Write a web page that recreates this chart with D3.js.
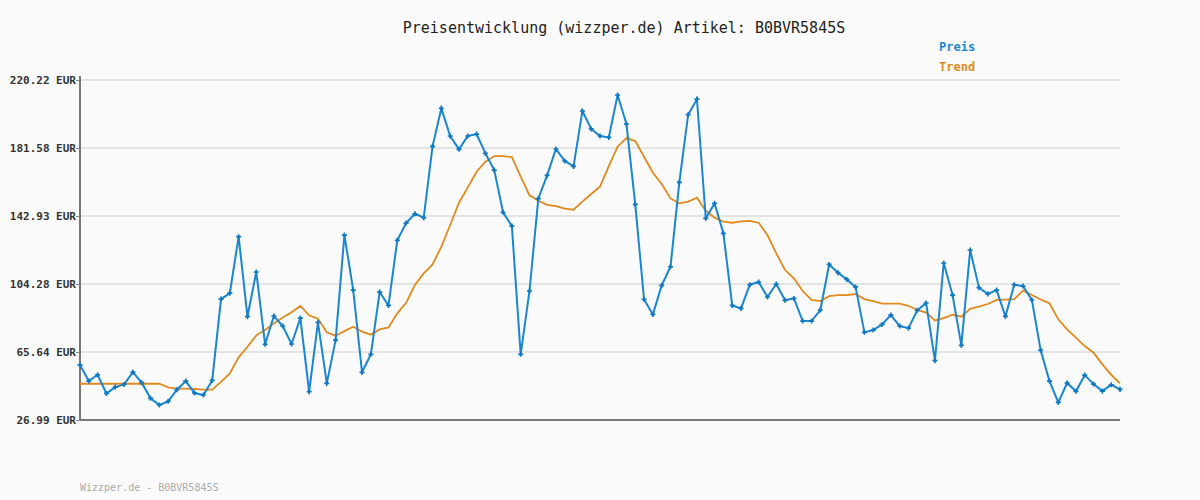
<!DOCTYPE html>
<html><head><meta charset="utf-8">
<script src="https://cdn.jsdelivr.net/npm/d3@7"></script>
<style>body{margin:0;background:#fafafa}svg{display:block}</style></head>
<body><svg id="c" width="1200" height="500"></svg>
<script>
const title = "Preisentwicklung (wizzper.de) Artikel: B0BVR5845S";
const footer = "Wizzper.de - B0BVR5845S";
const tickValues = [26.99, 65.64, 104.28, 142.93, 181.58, 220.22];
const tickLabels = ["26.99 EUR","65.64 EUR","104.28 EUR","142.93 EUR","181.58 EUR","220.22 EUR"];
const preis = [58.2,49.1,52.7,42.1,45.7,47.2,54.2,48.2,39.3,35.5,37.6,44.2,49.1,42.3,41.2,49.5,95.7,99.1,131.2,85.7,111.1,70.0,86.1,80.4,70.2,84.9,43.1,82.5,47.8,72.4,132.1,100.8,54.1,64.3,99.7,92.1,129.1,138.9,144.2,142.0,
182.5,204.1,188.4,180.8,188.4,189.5,178.5,169.0,145.0,137.2,64.3,100.3,152.8,166.0,181.0,174.2,171.1,202.6,192.4,188.4,187.6,211.7,195.2,149.5,95.5,87.0,103.5,114.1,162.0,200.5,209.4,141.6,150.1,133.1,92.1,90.4,103.9,105.4,96.9,104.3,
95.0,96.1,83.2,83.2,89.5,115.4,110.7,106.9,102.6,76.8,78.1,81.3,86.6,80.4,79.2,89.3,93.5,60.7,116.2,98.0,69.4,123.6,102.2,98.6,100.8,85.9,103.9,103.1,95.2,66.6,49.1,37.0,48.0,43.3,52.5,47.4,43.4,47.0,44.4];
const trend = [47.6,47.6,47.6,47.6,47.6,47.6,47.6,47.6,47.6,47.6,45.5,44.8,44.8,44.6,44.2,44.2,48.7,53.5,62.6,68.6,75.1,78.1,81.9,85.3,88.2,91.8,86.5,84.6,76.8,74.9,77.5,80.0,77.2,75.5,78.5,79.6,87.6,93.6,103.7,110.3,
115.4,125.5,137.8,150.5,159.2,168.1,173.8,177.0,177.0,176.4,165.3,154.7,151.6,149.3,148.6,147.1,146.5,151.1,155.4,159.6,171.3,182.3,187.2,185.5,176.6,167.5,161.1,152.9,150.1,151.1,153.3,145.9,142.0,139.7,139.1,139.9,140.1,139.1,132.1,121.7,
112.2,107.5,100.3,95.2,94.6,97.4,98.0,98.0,98.6,95.7,94.6,93.1,93.1,93.1,91.9,89.5,88.0,83.6,84.9,86.8,85.7,90.2,91.4,92.9,95.2,95.4,95.7,100.5,98.0,95.5,93.3,84.2,78.5,73.8,69.0,65.2,58.6,52.7,47.8];

const svg = d3.select("#c");
const L=80,R=1120,T=80,B=420;
const font = "'DejaVu Sans Mono', monospace";
const x = d3.scaleLinear().domain([0, preis.length-1]).range([L,R]);
const y = d3.scaleLinear().domain([26.99,220.22]).range([B,T]);

svg.append("rect").attr("width",1200).attr("height",500).attr("fill","#fafafa");
svg.append("g").selectAll("line").data(tickValues.slice(1)).join("line")
  .attr("x1",L).attr("x2",R).attr("y1",d=>y(d)).attr("y2",d=>y(d))
  .attr("stroke","#e4e4e4").attr("stroke-width",2);

const ax = svg.append("g").attr("transform",`translate(${L},0)`)
  .call(d3.axisLeft(y).tickValues(tickValues).tickFormat((d,i)=>tickLabels[i]).tickSize(4).tickPadding(0));
ax.select(".domain").remove();
ax.selectAll("line").attr("stroke","#888");
ax.selectAll("text").attr("font-family",font).attr("font-size",11).attr("font-weight","bold").attr("fill","#333");

svg.append("line").attr("x1",L).attr("x2",L).attr("y1",T-4).attr("y2",B).attr("stroke","#777").attr("stroke-width",2);
svg.append("line").attr("x1",L).attr("x2",R).attr("y1",B).attr("y2",B).attr("stroke","#777").attr("stroke-width",2);

const line = d3.line().x((d,i)=>x(i)).y(d=>y(d));
svg.append("path").datum(trend).attr("d",line).attr("fill","none").attr("stroke","#e08a1e").attr("stroke-width",1.8);
svg.append("path").datum(preis).attr("d",line).attr("fill","none").attr("stroke","#1a86d0").attr("stroke-width",2);
svg.append("g").selectAll("path").data(preis).join("path")
  .attr("d",d3.symbol(d3.symbolCross,14)).attr("transform",(d,i)=>`translate(${x(i)},${y(d)})`).attr("fill","#0f76c0");

svg.append("text").attr("x",624).attr("y",33).attr("text-anchor","middle").attr("font-family",font)
  .attr("font-size",15).attr("fill","#222").text(title);
svg.append("text").attr("x",939).attr("y",51).attr("font-family",font).attr("font-size",12).attr("font-weight","bold").attr("fill","#1a86d0").text("Preis");
svg.append("text").attr("x",939).attr("y",71).attr("font-family",font).attr("font-size",12).attr("font-weight","bold").attr("fill","#e08a1e").text("Trend");
svg.append("text").attr("x",80).attr("y",491).attr("font-family",font).attr("font-size",10).attr("fill","#aaa").text(footer);
</script></body></html>
